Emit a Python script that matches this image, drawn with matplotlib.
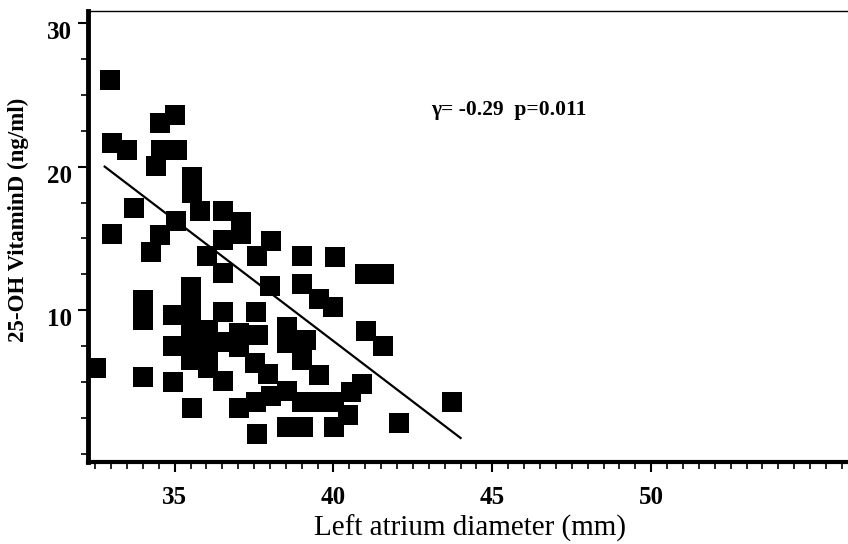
import numpy as np
import matplotlib
matplotlib.use("Agg")
import matplotlib.pyplot as plt
import matplotlib.transforms as mtransforms
from matplotlib.ticker import MultipleLocator

# left atrium diameter (mm) and 25-OH vitamin D (ng/ml)
la_diam = [32.53, 32.97, 33.04, 33.51, 33.04, 33.73, 34.53, 35.00, 34.56, 35.06,
           34.40, 35.54, 35.54, 35.79, 35.03, 34.53, 34.27, 36.01, 36.52, 37.09,
           37.09, 36.52, 37.59, 38.04, 39.02, 40.06, 40.98, 41.58, 36.52, 38.01,
           39.02, 39.53, 39.97, 41.01, 41.55, 34.02, 34.02, 34.02, 34.94, 34.94,
           34.94, 35.51, 35.51, 36.04, 36.52, 35.54, 37.03, 37.56, 37.59, 38.04,
           38.54, 38.54, 39.05, 39.02, 39.56, 40.03, 40.03, 40.47, 40.54, 40.89,
           43.73, 42.06, 36.52, 37.56, 37.63, 38.54, 38.54, 39.15, 39.02, 39.53,
           37.53, 37.94, 35.51, 35.51, 35.51, 36.04, 36.04, 36.52, 37.03, 37.03]
vit_d = [5.99, 26.06, 21.67, 21.18, 15.33, 17.14, 23.07, 23.62, 21.18, 21.18,
         20.07, 19.30, 18.19, 16.93, 16.24, 15.26, 14.08, 13.80, 16.93, 16.17,
         15.33, 14.91, 13.80, 14.84, 13.80, 13.73, 12.54, 12.54, 12.61, 11.71,
         11.85, 10.80, 10.24, 8.57, 7.53, 10.73, 9.34, 5.37, 9.69, 7.53,
         5.02, 11.64, 10.24, 5.99, 5.09, 3.21, 3.21, 3.62, 1.39, 4.04,
         4.39, 1.88, 1.88, 3.62, 3.62, 3.62, 1.88, 2.72, 4.32, 4.88,
         3.62, 2.16, 9.90, 9.90, 8.29, 8.85, 7.74, 7.94, 6.55, 5.51,
         6.34, 5.57, 8.85, 7.46, 6.55, 8.64, 7.39, 7.80, 8.43, 7.46]

fit_x = [32.8, 44.0]
fit_y = [20.0, 1.1]

x_ticks = [35, 40, 45, 50]
y_ticks = [10, 20, 30]

plt.rcParams["font.family"] = ["Liberation Serif", "DejaVu Serif"]

fig = plt.figure(figsize=(8.48, 5.44), dpi=100)
ax = fig.add_axes([0.104, 0.150, 0.90, 0.830])

ax.scatter(la_diam, vit_d, marker="s", s=215, c="black", linewidths=0, zorder=3)
ax.plot(fit_x, fit_y, color="black", lw=1.6, zorder=2)

ax.set_xlim(32.28, 56.3)
ax.set_ylim(-0.6, 30.85)

ax.set_xticks(x_ticks)
ax.xaxis.set_minor_locator(MultipleLocator(0.5))
ax.set_yticks(y_ticks)
ax.yaxis.set_minor_locator(MultipleLocator(2.5))

ax.tick_params(axis="both", which="major", direction="out", length=7, width=1.5,
               labelsize=18)
ax.tick_params(axis="x", which="major", pad=10)
ax.tick_params(axis="y", which="major", pad=5)
ax.tick_params(axis="both", which="minor", direction="out", length=5, width=1.2)
for lab in ax.get_xticklabels() + ax.get_yticklabels():
    lab.set_fontweight("bold")
# y labels sit a little below their ticks in the original
shift = mtransforms.ScaledTranslation(0, -5 / 72, fig.dpi_scale_trans)
for lab in ax.get_yticklabels():
    lab.set_transform(lab.get_transform() + shift)

ax.spines["left"].set_linewidth(3.5)
ax.spines["bottom"].set_linewidth(3.0)
ax.spines["top"].set_linewidth(1.0)
ax.spines["right"].set_visible(False)

ax.set_xlabel("Left atrium diameter (mm)", fontsize=21, labelpad=4)
ax.set_ylabel("25-OH VitaminD (ng/ml)", fontsize=16.5, fontweight="bold")
ax.yaxis.set_label_coords(-0.078, 0.537)

ax.text(0.551, 0.78, "\u03b3= -0.29  p=0.011", transform=ax.transAxes,
        fontsize=15.5, fontweight="bold", ha="center", va="center")

fig.savefig("out.png", dpi=100)
